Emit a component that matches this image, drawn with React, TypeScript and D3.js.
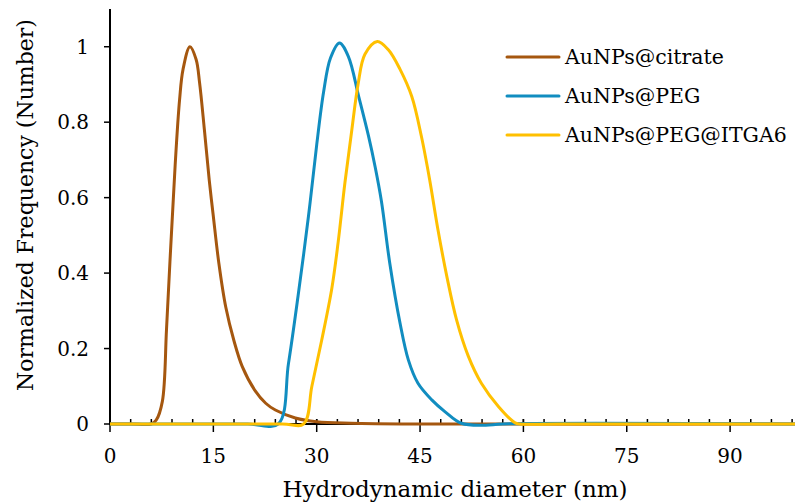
import React, { useEffect, useRef } from "react";
import * as d3 from "d3";

// diameters (nm) and normalized number frequency
const citrateX = [0, 3, 6, 6.7, 7.6, 8.2, 8.7, 9.2, 9.6, 10.1, 10.6, 11.6, 12.5, 13.0, 13.7, 14.4, 15.0, 15.8, 16.8, 18.0, 19.2, 21.0, 22.6, 24.0, 26.9, 30.0, 35, 45, 100];
const citrateY = [0, 0, 0, 0.01, 0.06, 0.25, 0.43, 0.6, 0.73, 0.86, 0.94, 1.0, 0.966, 0.905, 0.78, 0.647, 0.55, 0.426, 0.31, 0.22, 0.152, 0.09, 0.055, 0.037, 0.016, 0.006, 0.002, 0, 0];

const pegX = [0, 20, 24.4, 25.9, 27.3, 28.8, 30.0, 31.0, 32.0, 33.3, 34.6, 36.1, 37.5, 38.5, 39.4, 40.6, 42.1, 43.3, 44.7, 46.7, 48.6, 51.0, 54.5, 57, 100];
const pegY = [0, 0, 0, 0.16, 0.34, 0.55, 0.74, 0.88, 0.97, 1.01, 0.974, 0.868, 0.765, 0.68, 0.59, 0.427, 0.267, 0.17, 0.108, 0.064, 0.033, 0.002, -0.003, 0, 0];

const itgaX = [0, 25, 28.1, 29.3, 30.7, 32.2, 33.1, 34.1, 35.1, 36.0, 37.0, 38.8, 40.4, 42.1, 43.8, 45.2, 46.4, 47.6, 48.9, 50.3, 52.0, 53.9, 56.4, 58.8, 59.5, 65, 100];
const itgaY = [0, 0, 0, 0.1, 0.22, 0.36, 0.48, 0.64, 0.78, 0.9, 0.98, 1.014, 0.992, 0.94, 0.868, 0.762, 0.647, 0.515, 0.39, 0.276, 0.18, 0.108, 0.046, 0.003, 0, 0, 0];

const seriesNames = ["AuNPs@citrate", "AuNPs@PEG", "AuNPs@PEG@ITGA6"];
const seriesColors = ["#A5570F", "#118DC0", "#FFC000"];
const xTicks = [0, 15, 30, 45, 60, 75, 90];
const yTicks = [0, 0.2, 0.4, 0.6, 0.8, 1];

const FONT = "'DejaVu Serif', serif";

function DlsChart() {
  const ref = useRef<SVGSVGElement>(null);

  useEffect(() => {
    const svg = d3.select(ref.current);
    svg.selectAll("*").remove();

    const x = d3.scaleLinear().domain([0, 100]).range([110, 799]);
    const y = d3.scaleLinear().domain([0, 1.1]).range([424, 9]);

    const series = [
      citrateX.map((d, i) => [d, citrateY[i]]),
      pegX.map((d, i) => [d, pegY[i]]),
      itgaX.map((d, i) => [d, itgaY[i]]),
    ];

    // minor ticks every 3 nm, above the axis
    svg.append("g")
      .selectAll("line")
      .data(d3.range(0, 101, 3))
      .enter()
      .append("line")
      .attr("x1", d => x(d)).attr("x2", d => x(d))
      .attr("y1", y(0) - 5).attr("y2", y(0))
      .attr("stroke", "#000").attr("stroke-width", 1.5);

    // major x ticks cross the axis
    svg.append("g")
      .selectAll("line")
      .data(xTicks)
      .enter()
      .append("line")
      .attr("x1", d => x(d)).attr("x2", d => x(d))
      .attr("y1", y(0) - 5).attr("y2", y(0) + 8)
      .attr("stroke", "#000").attr("stroke-width", 1.5);

    svg.append("g")
      .selectAll("text")
      .data(xTicks)
      .enter()
      .append("text")
      .text(d => d)
      .attr("x", d => x(d))
      .attr("y", 463)
      .attr("text-anchor", "middle")
      .attr("font-family", FONT)
      .attr("font-size", 20);

    // y ticks
    svg.append("g")
      .selectAll("line")
      .data(yTicks)
      .enter()
      .append("line")
      .attr("x1", 104).attr("x2", x(0))
      .attr("y1", d => y(d)).attr("y2", d => y(d))
      .attr("stroke", "#000").attr("stroke-width", 1.5);

    svg.append("g")
      .selectAll("text")
      .data(yTicks)
      .enter()
      .append("text")
      .text(d => d)
      .attr("x", 89)
      .attr("y", d => y(d))
      .attr("dy", "0.35em")
      .attr("text-anchor", "end")
      .attr("font-family", FONT)
      .attr("font-size", 20);

    // axis lines
    svg.append("line")
      .attr("x1", x(0)).attr("x2", x(100))
      .attr("y1", y(0)).attr("y2", y(0))
      .attr("stroke", "#000").attr("stroke-width", 2);
    svg.append("line")
      .attr("x1", x(0)).attr("x2", x(0))
      .attr("y1", y(1.1)).attr("y2", y(0) + 1)
      .attr("stroke", "#000").attr("stroke-width", 2);

    const line = d3.line<number[]>()
      .x(d => x(d[0]))
      .y(d => y(d[1]))
      .curve(d3.curveCatmullRom.alpha(0.5));

    svg.append("g")
      .selectAll("path")
      .data(series)
      .enter()
      .append("path")
      .attr("d", d => line(d))
      .attr("fill", "none")
      .attr("stroke", (d, i) => seriesColors[i])
      .attr("stroke-width", 3)
      .attr("stroke-linejoin", "round");

    // legend
    const legend = svg.append("g")
      .selectAll("g")
      .data(seriesNames)
      .enter()
      .append("g")
      .attr("transform", (d, i) => "translate(507," + (57 + i * 39) + ")");
    legend.append("line")
      .attr("x1", 0).attr("x2", 52)
      .attr("stroke", (d, i) => seriesColors[i])
      .attr("stroke-width", 3)
      .attr("stroke-linecap", "round");
    legend.append("text")
      .text(d => d)
      .attr("x", 58)
      .attr("dy", "0.35em")
      .attr("font-family", FONT)
      .attr("font-size", 20.5);

    // axis titles
    svg.append("text")
      .text("Hydrodynamic diameter (nm)")
      .attr("x", 455)
      .attr("y", 497)
      .attr("text-anchor", "middle")
      .attr("font-family", FONT)
      .attr("font-size", 23);
    svg.append("text")
      .text("Normalized Frequency (Number)")
      .attr("transform", "translate(33,205) rotate(-90)")
      .attr("text-anchor", "middle")
      .attr("font-family", FONT)
      .attr("font-size", 22);
  }, []);

  return <svg ref={ref} width={795} height={504} style={{ display: "block" }} />;
}

export default function App() {
  return (
    <div style={{ position: "absolute", left: 0, top: 0, width: 795, height: 504, overflow: "hidden", background: "#fff" }}>
      <DlsChart />
    </div>
  );
}
